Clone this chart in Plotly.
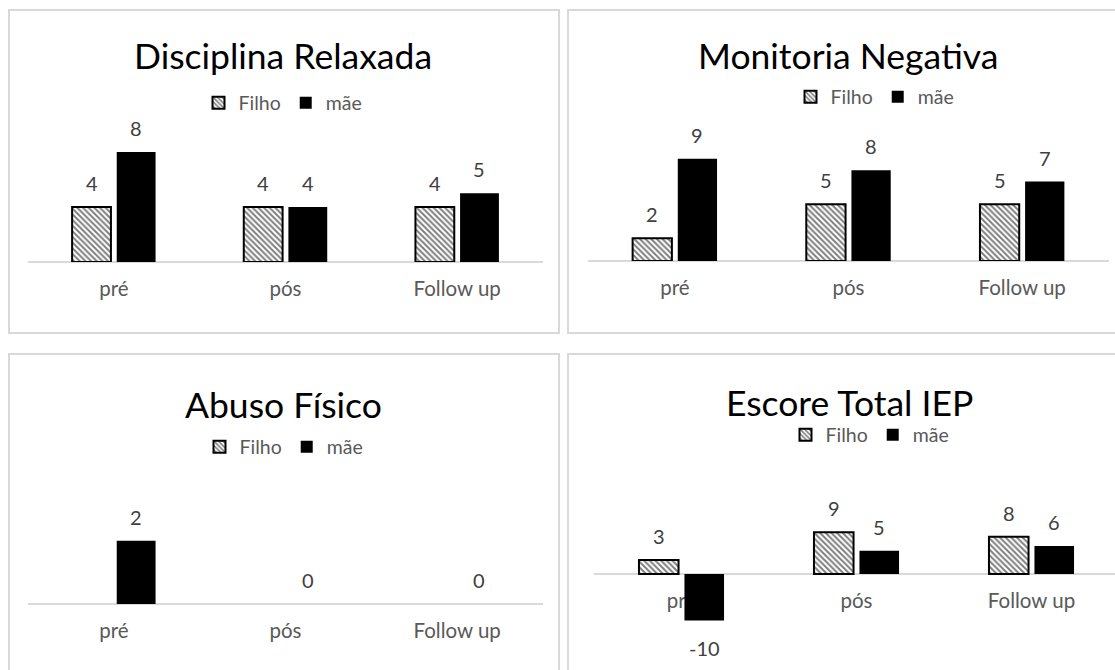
import plotly.graph_objects as go

# ---- data -------------------------------------------------------------
categories = ["pré", "pós", "Follow up"]
series_names = ["Filho", "mãe"]

disciplina_filho = [4, 4, 4]
disciplina_mae = [8, 4, 5]

monitoria_filho = [2, 5, 5]
monitoria_mae = [9, 8, 7]

abuso_filho = [None, None, None]
abuso_mae = [2, 0, 0]

escore_filho = [3, 9, 8]
escore_mae = [-10, 5, 6]

titles = ["Disciplina Relaxada", "Monitoria Negativa", "Abuso Físico", "Escore Total IEP"]

# ---- page geometry (pixels) -------------------------------------------
W, H = 1115, 670
FONT = "Lato"
GRID = "#d9d9d9"
LABEL_GRAY = "#404040"
AXIS_GRAY = "#595959"

BARGAP = 0.48
BARGROUPGAP = 0.13
HALF = (1 - BARGAP) / 4  # offset of each bar centre from its category

panels = [
    dict(title=titles[0], filho=disciplina_filho, mae=disciplina_mae,
         plot_x=(28, 543), zero_px=262, ppu=13.75, yrange=(0, 10),
         title_xy=(283, 55), legend_xy=(283, 103), box=(9, 10, 559, 333)),
    dict(title=titles[1], filho=monitoria_filho, mae=monitoria_mae,
         plot_x=(588, 1109), zero_px=261, ppu=11.35, yrange=(0, 10),
         title_xy=(848, 55), legend_xy=(875, 97), box=(568, 10, 1130, 333)),
    dict(title=titles[2], filho=abuso_filho, mae=abuso_mae,
         plot_x=(28, 543), zero_px=604, ppu=31.6, yrange=(0, 2.5),
         title_xy=(283, 404), legend_xy=(284, 447), box=(9, 354, 559, 700)),
    dict(title=titles[3], filho=escore_filho, mae=escore_mae,
         plot_x=(594, 1119), zero_px=574, ppu=4.65, yrange=(-11, 10),
         title_xy=(849, 402), legend_xy=(870, 435), box=(568, 354, 1130, 700)),
]


def px_x(x):
    return x / W


def px_y(y):
    return 1 - y / H


fig = go.Figure()
annotations = []
shapes = []
layout_axes = {}

for k, p in enumerate(panels, start=1):
    sfx = "" if k == 1 else str(k)
    xa, ya = "x" + sfx, "y" + sfx
    leg = "legend" if k == 1 else "legend" + str(k)

    fig.add_trace(go.Bar(
        x=categories, y=p["filho"], name=series_names[0],
        xaxis=xa, yaxis=ya, legend=leg,
        marker=dict(color="white",
                    line=dict(color="black", width=2),
                    pattern=dict(shape="\\", fgcolor="black", bgcolor="white",
                                 size=4, solidity=0.5)),
        hoverinfo="skip",
    ))
    fig.add_trace(go.Bar(
        x=categories, y=p["mae"], name=series_names[1],
        xaxis=xa, yaxis=ya, legend=leg,
        marker=dict(color="black", line=dict(width=0)),
        hoverinfo="skip",
    ))

    # value labels above (or below) each bar
    for series, off in ((p["filho"], -HALF), (p["mae"], HALF)):
        for i, v in enumerate(series):
            if v is None:
                continue
            neg = v < 0
            annotations.append(dict(
                x=i + off, y=v, xref=xa, yref=ya, text=str(v), showarrow=False,
                yanchor="top" if neg else "bottom",
                yshift=-13 if neg else 10,
                font=dict(family=FONT, size=20, color=LABEL_GRAY),
            ))

    # plot area from the pixel layout
    x0, x1 = p["plot_x"]
    slot = (x1 - x0) / 3
    x1c = min(x1, W)
    ymin, ymax = p["yrange"]
    top_px = p["zero_px"] - ymax * p["ppu"]
    bot_px = p["zero_px"] - ymin * p["ppu"]
    ydom = [px_y(bot_px), px_y(top_px)]

    layout_axes["xaxis" + sfx] = dict(
        domain=[px_x(x0), px_x(x1c)],
        range=[-0.5, -0.5 + (x1c - x0) / slot],
        type="category", anchor="free", position=px_y(p["zero_px"]),
        showline=True, linecolor=GRID, linewidth=1.5,
        showgrid=False, zeroline=False, ticks="", layer="below traces",
        tickfont=dict(family=FONT, size=20.5, color=AXIS_GRAY),
        ticklabelstandoff=9, fixedrange=True,
    )
    layout_axes["yaxis" + sfx] = dict(
        domain=ydom, range=[ymin, ymax], anchor=xa,
        visible=False, showgrid=False, zeroline=False, fixedrange=True,
    )

    # legend under the title
    layout_axes[leg] = dict(
        orientation="h", x=px_x(p["legend_xy"][0]), y=px_y(p["legend_xy"][1]),
        xanchor="center", yanchor="middle", bgcolor="rgba(0,0,0,0)",
        font=dict(family=FONT, size=19.5, color=AXIS_GRAY),
        itemclick=False, itemdoubleclick=False, tracegroupgap=0,
    )

    # chart title
    annotations.append(dict(
        x=px_x(p["title_xy"][0]), y=px_y(p["title_xy"][1]),
        xref="paper", yref="paper", text=p["title"], showarrow=False,
        xanchor="center", yanchor="middle",
        font=dict(family=FONT, size=35.5, color="black"),
    ))

    # chart frame
    bx0, by0, bx1, by1 = p["box"]
    shapes.append(dict(
        type="rect", xref="paper", yref="paper",
        x0=px_x(bx0), x1=px_x(bx1), y0=px_y(by1), y1=px_y(by0),
        line=dict(color=GRID, width=2), fillcolor="rgba(0,0,0,0)", layer="below",
    ))

fig.update_layout(
    width=W, height=H,
    margin=dict(l=0, r=0, t=0, b=0),
    paper_bgcolor="white", plot_bgcolor="white",
    barmode="group", bargap=BARGAP, bargroupgap=BARGROUPGAP,
    annotations=annotations, shapes=shapes,
    font=dict(family=FONT),
    **layout_axes,
)

fig.write_html("out.html", config={"displayModeBar": False})
